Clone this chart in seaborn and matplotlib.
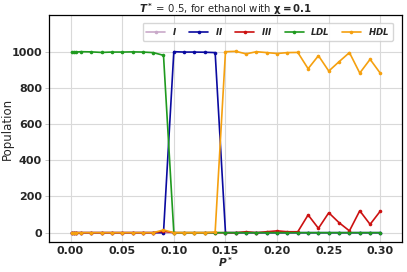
import matplotlib
matplotlib.use("Agg")

import matplotlib.pyplot as plt
import pandas as pd
import seaborn as sns

# ───────── data ─────────
pressure = [0.001, 0.003, 0.005, 0.01, 0.02, 0.03, 0.04, 0.05, 0.06, 0.07,
            0.08, 0.09, 0.10, 0.11, 0.12, 0.13, 0.14, 0.15, 0.16, 0.17,
            0.18, 0.19, 0.20, 0.21, 0.22, 0.23, 0.24, 0.25, 0.26, 0.27,
            0.28, 0.29, 0.30]

pop_I = [0] * 33

pop_II = [0, 0, 0, 0, 0, 0, 0, 0, 0, 0,
          0, 0, 1000, 998, 998, 997, 995, 0, 0, 0,
          0, 0, 0, 0, 0, 0, 0, 0, 0, 0,
          0, 0, 0]

pop_III = [0, 0, 0, 0, 0, 0, 0, 0, 0, 0,
           0, 8, 0, 0, 0, 0, 0, 0, 0, 5,
           0, 5, 10, 5, 5, 98, 24, 110, 55, 10,
           121, 46, 120]

pop_LDL = [997, 998, 998, 1000, 999, 996, 998, 998, 999, 998,
           995, 980, 0, 0, 0, 0, 0, 0, 0, 0,
           0, 0, 0, 0, 0, 0, 0, 0, 0, 0,
           0, 0, 0]

pop_HDL = [0, 0, 0, 0, 0, 0, 0, 0, 0, 0,
           0, 15, 0, 0, 0, 0, 3, 1000, 1002, 988,
           1000, 995, 990, 995, 996, 906, 978, 893, 945, 995,
           882, 958, 880]

phases = ["I", "II", "III", "LDL", "HDL"]
colors = ["#c9a9c9", "#0a0aa0", "#cc1111", "#1f9a1f", "#f5a00f"]

df = pd.DataFrame({"P": pressure, "I": pop_I, "II": pop_II, "III": pop_III,
                   "LDL": pop_LDL, "HDL": pop_HDL})
long_df = df.melt(id_vars="P", var_name="phase", value_name="population")

# ───────── plot ─────────
sns.set_style("whitegrid", {"axes.edgecolor": "black", "grid.color": "#d9d9d9"})

fig = plt.figure(figsize=(4.07, 2.72), dpi=100)
ax = fig.add_axes([0.120, 0.110, 0.868, 0.835])

for name, col in zip(phases, colors):
    sub = long_df[long_df["phase"] == name]
    sns.lineplot(data=sub, x="P", y="population", ax=ax, color=col,
                 marker="o", markersize=2.6, markeredgewidth=0,
                 linewidth=1.2, label=r"$\mathbfit{" + name + "}$")

ax.set_xlim(-0.021, 0.321)
ax.set_ylim(-52, 1203)
ax.set_xticks([0.0, 0.05, 0.10, 0.15, 0.20, 0.25, 0.30])
ax.set_xticklabels(["0.00", "0.05", "0.10", "0.15", "0.20", "0.25", "0.30"])
ax.set_yticks([0, 200, 400, 600, 800, 1000])
ax.tick_params(axis="both", labelsize=8, length=3, width=0.6,
               left=True, bottom=False, color="#bbbbbb", pad=2)
ax.tick_params(axis="x", pad=0)
for lbl in ax.get_xticklabels() + ax.get_yticklabels():
    lbl.set_fontweight("bold")

for sp in ax.spines.values():
    sp.set_color("black")
    sp.set_linewidth(0.9)

ax.set_xlabel(r"$\mathbfit{P^*}$", fontsize=7.6)
ax.set_ylabel("Population", fontsize=8.5)
ax.xaxis.set_label_coords(0.5, -0.058)
ax.yaxis.set_label_coords(-0.098, 0.5)
ax.set_title(r"$\mathbfit{T^*}$ = 0.5, for ethanol with $\mathbf{\chi = 0.1}$",
             fontsize=7.3, pad=1.5)

ax.legend(loc="upper right", ncol=5, fontsize=6.2, frameon=True,
          handlelength=2.2, columnspacing=1.4, borderpad=0.4,
          bbox_to_anchor=(0.985, 0.985))

fig.savefig("out.png", dpi=100)
